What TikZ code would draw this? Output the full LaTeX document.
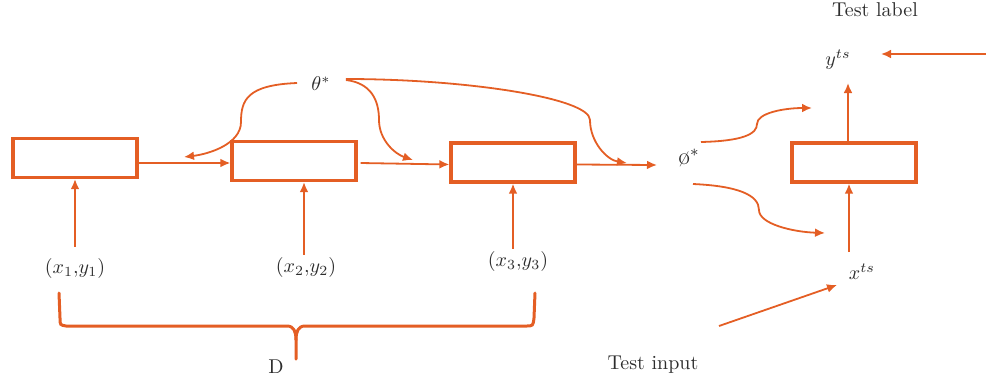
\documentclass[tikz,border=0pt]{standalone}
\usepackage{xcolor}
\usepackage{tikz}
\usetikzlibrary{positioning,arrows.meta}

\definecolor{metaorange}{RGB}{228,94,36}
\definecolor{textgray}{RGB}{45,45,45}

\begin{document}
\begin{tikzpicture}[
    x=0.5pt, y=-0.5pt,
    >={Latex[length=5pt,width=4.4pt]},
    block/.style={rectangle, draw=metaorange, line width=1.6pt, minimum width=62pt, minimum height=19.5pt},
    flow/.style={->, draw=metaorange, line width=0.9pt},
    txt/.style={text=textgray, inner sep=1pt},
    bracket/.style={draw=metaorange, line width=1.5pt, line cap=round}
]
\useasboundingbox (0,0) rectangle (986,381);

% Training learners
\node[block] (box1) at (75,158) {};
\node[block] (box2) at (294,161) {};
\node[block] (box3) at (513,162.5) {};

% Test learner
\node[block] (box4) at (854,162.5) {};

% Training pairs
\node[txt] (xy1) at (75,268) {$(x_1{,}y_1)$};
\node[txt] (xy2) at (306,267) {$(x_2{,}y_2)$};
\node[txt] (xy3) at (518,261) {$(x_3{,}y_3)$};
\node[txt] (dset) at (276,367) {D};

% Parameters
\node[txt] (theta) at (321,84) {$\theta^{*}$};
\node[txt] (phi) at (689,158) {\large\o$^{\ast}$};

% Test side
\node[txt] (yts) at (838,60) {$y^{ts}$};
\node[txt] (xts) at (862,272) {$x^{ts}$};
\node[txt] (testlbl) at (875,10) {Test label};
\node[txt] (testin) at (653,365) {Test input};

% Free ends
\coordinate (phiin) at (657,165);
\coordinate (thA) at (184,157);
\coordinate (thB) at (413,160);
\coordinate (thC) at (627,163);
\coordinate (phiU) at (701,142);
\coordinate (phiL) at (693,184);
\coordinate (predU) at (812,108);
\coordinate (predL) at (825,233);
\coordinate (xtop) at (849,252);
\coordinate (ytop) at (848,83);
\coordinate (lblsrc) at (986,54);
\coordinate (lbltip) at (881,54);
\coordinate (insrc) at (719,326);
\coordinate (intip) at (837,285);

% Arrows
\draw[flow] ([yshift=4.5pt]xy1.north) -- (box1.south);
\draw[flow] ([xshift=-1pt]xy2.north) -- ([xshift=-1pt]xy2.north |- box2.south);
\draw[flow] (xy3.north -| box3.south) -- (box3.south);
\draw[flow] ([yshift=-2.5pt]box1.east) -- ([yshift=-1pt]box2.west);
\draw[flow] ([xshift=1.5pt,yshift=-1pt]box2.east) -- ([yshift=-1pt]box3.west);
\draw[flow] ([yshift=-1pt]box3.east) -- (phiin);

\draw[flow] ([xshift=-6pt,yshift=0.5pt]theta.west) .. controls +(-50,2) and +(0,-22) .. (241,122)
    .. controls +(0,22) and +(25,-3) .. (thA);
\draw[flow] ([xshift=6.5pt,yshift=2pt]theta.east) .. controls +(25,3) and +(0,-20) .. (379,120)
    .. controls +(0,20) and +(-18,-6) .. (thB);
\draw[flow] ([xshift=6.5pt,yshift=2.5pt]theta.east) .. controls +(120,0) and +(0,-22) .. (590,120)
    .. controls +(0,22) and +(-20,-3) .. (thC);

\draw[flow] (phiU) .. controls +(42,-1) and +(0,10) .. (757,124)
    .. controls +(0,-11) and +(-28,0) .. (predU);
\draw[flow] (phiL) .. controls +(45,2) and +(0,-15) .. (759,210)
    .. controls +(0,14) and +(-32,-1) .. (predL);

\draw[flow] (xtop) -- (xtop |- box4.south);
\draw[flow] (ytop |- box4.north) -- (ytop);
\draw[flow] (lblsrc) -- (lbltip);
\draw[flow] (insrc) -- (intip);

% Brace under the pairs
\draw[bracket] (59,293) -- (60,318) .. controls (60,325) .. (66,326) -- (287,326)
    .. controls (294,326) and (296,332) .. (296,340) -- (296,359);
\draw[bracket] (296,340) .. controls (296,332) and (298,326) .. (305,326) -- (526,326)
    .. controls (533,326) .. (534,318) -- (535,293);

\end{tikzpicture}
\end{document}
